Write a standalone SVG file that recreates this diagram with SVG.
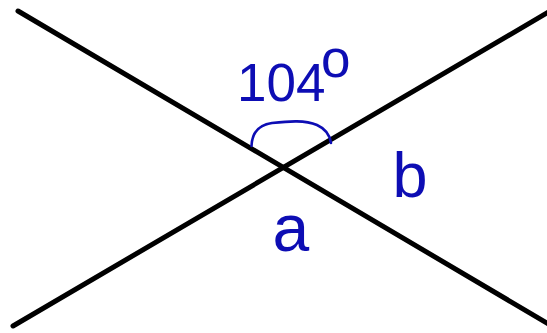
<svg xmlns="http://www.w3.org/2000/svg" width="547" height="333" viewBox="0 0 547 333">
  <style>
    .ln { stroke: #000; stroke-width: 5; stroke-linecap: round; fill: none; }
    .arc { stroke: #0d0db4; stroke-width: 2.6; stroke-linecap: round; fill: none; }
    .lbl { font-family: "Liberation Sans", Arial, sans-serif; fill: #0d0db4; }
  </style>
  <rect width="547" height="333" fill="#fff"/>
  <g id="lines">
    <line class="ln" x1="18" y1="11" x2="552" y2="326"/>
    <line class="ln" x1="13" y1="326" x2="552" y2="10"/>
  </g>
  <g id="angle-arc">
    <path class="arc" d="M251.5,146 C252,133 258,125 272,123 C290,121 305,120 317,125 C326,129 330,136 331,143"/>
  </g>
  <g id="labels">
    <text class="lbl" x="237" y="101" font-size="53">104<tspan x="321" y="77">o</tspan></text>
    <text class="lbl" x="392.5" y="197" font-size="63">b</text>
    <text class="lbl" x="272.5" y="251" font-size="66">a</text>
  </g>
</svg>
